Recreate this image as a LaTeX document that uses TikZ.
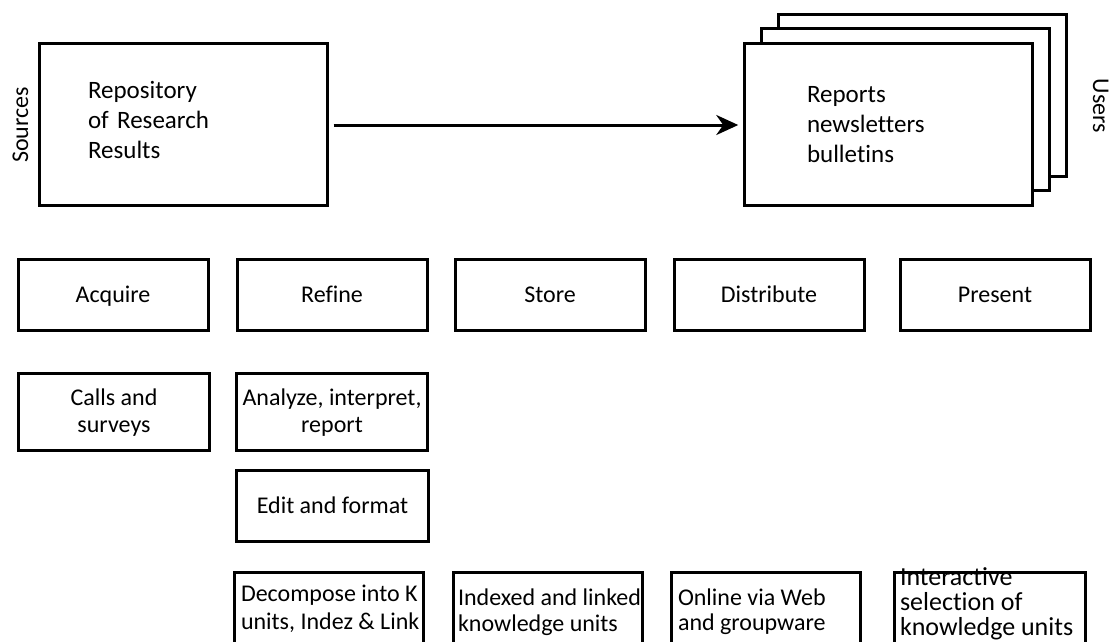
\documentclass[tikz,border=0pt]{standalone}
\usepackage{fontspec}
\setmainfont{Carlito}[Ligatures=NoCommon]
\usetikzlibrary{arrows.meta}
% line-box struts: ascent part on the first line, descent part on the last
\newcommand\capup{\rule{0pt}{0.93em}}
\newcommand\capdn{\rule[-0.29em]{0pt}{0.29em}}
\begin{document}
\begin{tikzpicture}[x=1pt, y=-1pt,
  every node/.style={inner sep=0pt, outer sep=0pt, font=\fontsize{24}{27}\selectfont},
  frame/.style={draw, line width=3pt, fill=white},
  bigbox/.style={frame, minimum width=288pt, minimum height=162pt,
                 font=\fontsize{25}{30}\selectfont},
  stagebox/.style={frame, minimum width=190pt, minimum height=71pt, align=center},
  taskbox/.style={frame, minimum width=191pt, minimum height=77pt, align=center},
  outbox/.style={frame, minimum width=189pt, minimum height=110pt, anchor=north west},
  outtext/.style={anchor=north west, align=left},
  flow/.style={line width=3pt, -{Stealth[length=22pt, width=20pt, inset=7pt]}}
]
\useasboundingbox (0,0) rectangle (1113,641);
\clip (0,0) rectangle (1113,641);

% top: repository and stacked publications
\node[bigbox, text width=190pt, align=left] (repo) at (183,124.5)
  {\capup Repository\\of Research\\Results\rule[-0.61em]{0pt}{0.61em}};
\node[bigbox] (rep3) at (922.75,95.25) {};
\node[bigbox] (rep2) at (905.75,109.75) {};
\node[bigbox, text width=163.5pt, align=left] (rep) at (888.75,124.25)
  {\capup Reports\\newsletters\\bulletins\capdn};
\draw[flow, shorten <=6.5pt, shorten >=6.5pt] (repo.east |- 0,125) -- (rep.west |- 0,125);

\node[rotate=90, anchor=base] (src) at (28,125) {Sources};
\node[rotate=-90, anchor=base] (usr) at (1093,106) {Users};

% stages
\node[stagebox] (acq) at (113,295) {\capup Acquire\capdn};
\node[stagebox] (ref) at (332,295) {\capup Refine\capdn};
\node[stagebox] (sto) at (550,295) {\capup Store\capdn};
\node[stagebox] (dis) at (769,295) {\capup Distribute\capdn};
\node[stagebox] (pre) at (995,295) {\capup Present\capdn};

% activities
\node[taskbox] (calls) at (114,411.5) {\capup Calls and\\surveys\capdn};
\node[taskbox] (ana) at (332,411.5) {\capup Analyze, interpret,\\report\capdn};
\node[stagebox, minimum width=192pt] (edit) at (332.5,506) {\capup Edit and format\capdn};

% outputs
\node[outbox] (dec) at (234.5,572.5) {};
\node[outbox] (idx) at (453.5,572.5) {};
\node[outbox] (onl) at (671.5,572.5) {};
\node[outbox, minimum width=191pt] (itv) at (894.5,572.5) {};

\node[outtext, font=\fontsize{24}{28}\selectfont] (dect) at (241,585)
  {Decompose into K\\units, Indez \& Link};
\node[outtext, font=\fontsize{24}{26}\selectfont] (idxt) at (458,589)
  {Indexed and linked\\knowledge units};
\node[outtext, font=\fontsize{24}{25}\selectfont] (onlt) at (678,589)
  {Online via Web\\and groupware};
\node[outtext, font=\fontsize{26}{25}\selectfont] (itvt) at (900,568)
  {Interactive\\selection of\\knowledge units};
\end{tikzpicture}
\end{document}
